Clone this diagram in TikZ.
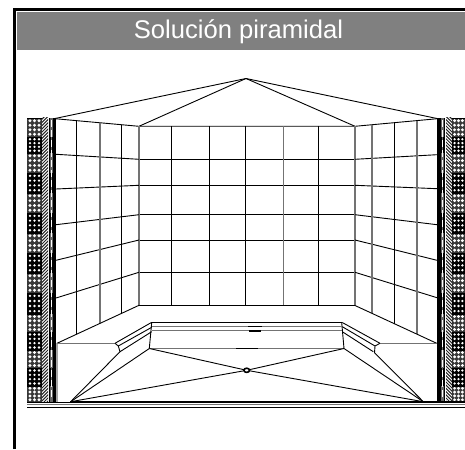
\documentclass[tikz,border=0pt]{standalone}
\usepackage{fontspec}
\setmainfont{Liberation Sans}
\tikzset{
  edge/.style={black,line width=0.9pt},
  soft/.style={black!55,line width=1.2pt},
  bold/.style={black,line width=1.4pt},
  frame/.style={black,line width=2.6pt},
  hatchline/.style={black!85,line width=1pt},
  title/.style={text=white,inner sep=0pt,font=\fontsize{25.6}{30}\selectfont}
}
\newcommand{\wallblocks}[2]{% x offset, width
  \foreach \ya/\yb/\kind in {118/137/0,137/153/1,153/173/0,173/193/1,193/213/0,213/233/1,233/253/0,253/273/1,273/293/0,293/314/1,314/332/0,332/350/1,350/368/0,368/386/1,386/402/0}{
    \ifnum\kind=0
      \fill[black!78] (#1,\ya) rectangle ++(#2,\yb-\ya);
    \else
      \fill[black] (#1,\ya) rectangle ++(#2,\yb-\ya);
    \fi
    \foreach \i in {0,1,2}{
      \foreach \j in {0,1,2,3}{
        \pgfmathsetmacro{\cx}{#1+(#2)*(0.2+0.3*\i)}
        \pgfmathsetmacro{\cy}{\ya+(\yb-\ya)*(0.14+0.24*\j)}
        \ifnum\kind=0
          \fill[white] (\cx,\cy) circle (1.6);
        \else
          \fill[white] (\cx,\cy) circle (1.3);
        \fi
      }
    }
    \draw[black,line width=0.5pt] (#1,\ya) -- ++(#2,0);
  }
}
\begin{document}
\begin{tikzpicture}[x=1pt,y=-1pt]
\useasboundingbox (0,0) rectangle (465,449);
% frame and banner
\draw[frame] (14.5,449) -- (14.5,9.5) -- (465,9.5);
\fill[black!50] (17,12) rectangle (465,50);
\node[title] (heading) at (238.5,32) {Solución piramidal};

% left wall section
\wallblocks{27}{15}
\begin{scope}
  \clip (42,118) rectangle (48,402);
  \foreach \k in {0,...,100}{
    \draw[hatchline] (40,{118+\k*3.2}) -- ++(10,-10);
  }
\end{scope}
\fill[black] (48.5,118) rectangle (56,402);
\fill[black!60] (49.5,118) rectangle (53,402);
\foreach \ya in {120,130,140,150,160,170,180,190,200,210,220,230,240,250,260,270,280,290,300,310,320,330,340,350,360,370,380,390}{
  \fill[white] (50.6,\ya) rectangle (52,\ya+7);
}
\foreach \ya/\yb in {137/153,173/193,213/233,253/273,293/314,332/350,368/386}{
  \fill[black] (49.5,\ya) rectangle (50.6,\yb);
  \fill[black] (52,\ya) rectangle (53,\yb);
}

% right wall section
\wallblocks{452}{13}
\begin{scope}
  \clip (446,118) rectangle (452,402);
  \foreach \k in {0,...,100}{
    \draw[hatchline] (444,{108+\k*3.2}) -- ++(10,10);
  }
\end{scope}
\fill[black] (437,118) rectangle (445,402);
\fill[black!60] (440.5,118) rectangle (444,402);
\foreach \ya in {120,130,140,150,160,170,180,190,200,210,220,230,240,250,260,270,280,290,300,310,320,330,340,350,360,370,380,390}{
  \fill[white] (441.5,\ya) rectangle (443,\ya+7);
}
\foreach \ya/\yb in {137/153,173/193,213/233,253/273,293/314,332/350,368/386}{
  \fill[black] (440.5,\ya) rectangle (441.5,\yb);
  \fill[black] (443,\ya) rectangle (444,\yb);
}

% ceiling
\draw[edge] (55,118.5) -- (246,78.5) -- (437,118.5);
\draw[edge] (139,126.3) -- (246,78.5) -- (355,126.3);
\draw[edge] (55,118.7) -- (139,126.3) -- (355,126.3) -- (437.5,118.7);

% back wall
\foreach \y in {159.3,185.3,214.7,240,272.3,305.3}{
  \draw[edge] (139,\y) -- (355,\y);
}
\foreach \x in {171.3,209.3,245.3,318.3}{
  \draw[edge] (\x,126.3) -- (\x,305.3);
}
\draw[soft] (283.7,126.3) -- (283.7,305.3);
\draw[soft] (139,126.3) -- (139,305.3);
\draw[soft] (355,126.3) -- (355,305.3);

% left wall
\foreach \ya/\yb in {154.3/159.3,189/185.3,224.7/214.7,260.3/240,298/272.3}{
  \draw[edge] (56,\ya) -- (139,\yb);
}
\draw[edge] (76.3,120.6) -- (76.3,334.3);
\draw[soft] (100,122.8) -- (100,323.2);
\draw[edge] (121.3,124.7) -- (121.3,313.3);

% right wall
\foreach \ya/\yb in {159.3/154.7,185.3/188.7,214.7/224.7,240/260.3,272.3/297.7}{
  \draw[edge] (355,\ya) -- (437,\yb);
}
\draw[soft] (372,124.7) -- (372,313.4);
\draw[edge] (394,122.7) -- (394,323.5);
\draw[soft] (417,120.6) -- (417,334.2);

% floor edges
\draw[edge] (57,402) -- (57,343.3) -- (139,305.3);
\draw[edge] (355,305.5) -- (436.7,343.3);
\draw[soft] (57,343.3) -- (115,343.3);
\draw[soft] (380,343.3) -- (436.7,343.3);

% sunken tray: left
\draw[edge] (115,343.3) -- (151,322.7);
\draw[edge] (118.3,346) -- (151.7,327.3);
\draw[edge] (120,351.7) -- (151.7,331.7);
\draw[edge] (115,343.3) -- (118.3,346) -- (120,351.7) -- (70.7,401.7);
\draw[edge] (151.7,322.7) -- (149.3,348.5) -- (70.7,401.7);
% sunken tray: right
\draw[edge] (380,343.3) -- (342.3,322.5);
\draw[edge] (375,346) -- (342.3,326.7);
\draw[edge] (373.3,351.7) -- (342.3,331.7);
\draw[edge] (380,343.3) -- (375,346) -- (374.5,352.7) -- (423.3,401.7);
\draw[edge] (341.7,322.5) -- (344,348.5) -- (423.3,401.7);
% tray horizontals
\draw[edge] (151,322.7) -- (342,322.7);
\draw[soft] (151.7,326.3) -- (342,326.3);
\draw[soft] (151.7,330.8) -- (342,330.8);
\draw[soft] (149.3,348.7) -- (344,348.7);
\draw[bold] (222,322.7) -- (271,322.7);
\draw[bold] (248,326.3) -- (262,326.3);
\draw[bold] (249,330.8) -- (261,330.8);
\draw[bold] (236,348.7) -- (258,348.7);
% drain and its diagonals
\coordinate (drainc) at (246.7,370.3);
\draw[edge] (149.3,348.5) -- (drainc) -- (423.3,401.7);
\draw[edge] (70.7,401.7) -- (drainc) -- (344,348.5);
\draw[black,line width=1.6pt,fill=white] (drainc) ellipse (2.8 and 2.1);

% floor lines
\draw[bold] (70,401.9) -- (465,401.9);
\draw[edge,black!55] (27,404.6) -- (465,404.6);
\draw[black,line width=1.1pt] (27,407.3) -- (465,407.3);
\draw[bold] (27,402.2) -- (70,402.2);
\draw[black,line width=2pt] (423,402) -- (439,402);
\end{tikzpicture}
\end{document}
